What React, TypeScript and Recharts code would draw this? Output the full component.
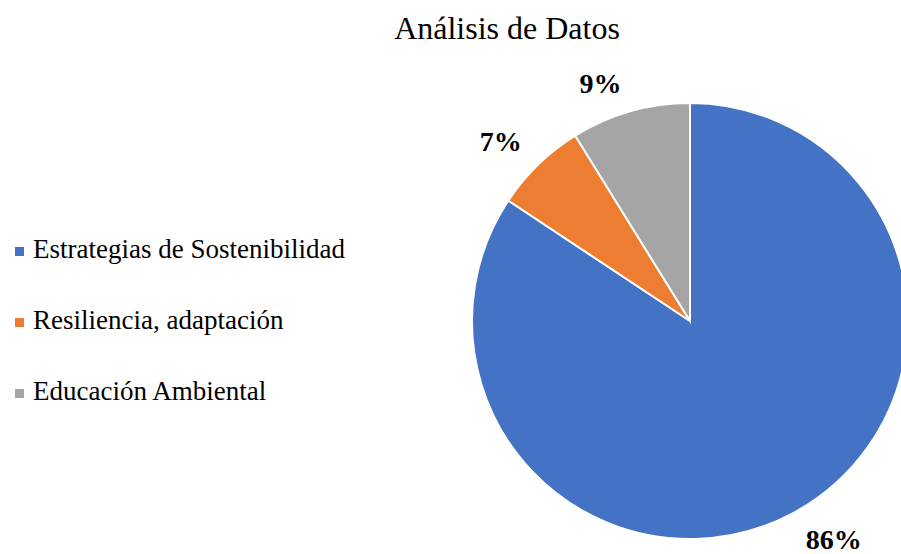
import React from 'react';
import { PieChart, Pie, Cell, Legend } from 'recharts';

const categories = ['Estrategias de Sostenibilidad', 'Resiliencia, adaptación', 'Educación Ambiental'];
const values = [86, 7, 9];
const labels = ['86%', '7%', '9%'];
const colors = ['#4472C4', '#ED7D31', '#A5A5A5'];
const title = 'Análisis de Datos';

const data = categories.map((name, i) => ({ name, value: values[i], label: labels[i] }));

const FONT = '"Liberation Serif", "Times New Roman", Times, serif';
const RADIAN = Math.PI / 180;

const renderLabel = (props: any) => {
  const { cx, cy, midAngle, outerRadius, index } = props;
  const r = outerRadius + 18;
  const cos = Math.cos(-midAngle * RADIAN);
  const sin = Math.sin(-midAngle * RADIAN);
  const px = cx + r * cos;
  const py = cy + r * sin;
  const anchor = cos < 0 ? 'end' : 'start';
  const x = cos < 0 ? px - 4 : px + 4;
  const y = sin < 0 ? py - 1 : py + 20;
  return (
    <text
      x={x}
      y={y}
      textAnchor={anchor}
      fill="#000"
      style={{ fontFamily: FONT, fontWeight: 'bold', fontSize: 28 }}
    >
      {data[index].label}
    </text>
  );
};

const renderLegend = (props: any) => {
  const payload = [...(props.payload || [])].sort(
    (a: any, b: any) => categories.indexOf(a.value) - categories.indexOf(b.value)
  );
  return (
    <div style={{ fontFamily: FONT, fontSize: 27, color: '#000' }}>
      {payload.map((entry: any, i: number) => (
        <div key={i} style={{ position: 'relative', height: 71, lineHeight: '71px', paddingLeft: 33, whiteSpace: 'nowrap' }}>
          <span
            style={{
              position: 'absolute',
              left: 15,
              top: 33,
              width: 9,
              height: 9,
              background: entry.color,
            }}
          />
          {entry.value}
        </div>
      ))}
    </div>
  );
};

export default function App() {
  return (
    <div style={{ position: 'absolute', left: 0, top: 0, width: 901, height: 554, background: '#fff', overflow: 'hidden' }}>
      <div
        style={{
          position: 'absolute',
          left: 307,
          width: 400,
          top: 12,
          textAlign: 'center',
          fontFamily: FONT,
          fontSize: 32,
          lineHeight: '32px',
          color: '#000',
          whiteSpace: 'nowrap',
        }}
      >
        {title}
      </div>
      <PieChart width={901} height={554} margin={{ top: 0, right: 0, bottom: 0, left: 0 }}>
        <Pie
          data={data}
          dataKey="value"
          nameKey="name"
          cx={690}
          cy={321}
          outerRadius={218}
          startAngle={90}
          endAngle={-270}
          stroke="#fff"
          strokeWidth={2}
          label={renderLabel}
          labelLine={false}
          isAnimationActive={false}
        >
          {data.map((d, i) => (
            <Cell key={d.name} fill={colors[i]} />
          ))}
        </Pie>
        <Legend
          content={renderLegend}
          layout="vertical"
          itemSorter={null as any}
          wrapperStyle={{ position: 'absolute', left: 0, top: 214, width: 420 }}
        />
      </PieChart>
    </div>
  );
}
